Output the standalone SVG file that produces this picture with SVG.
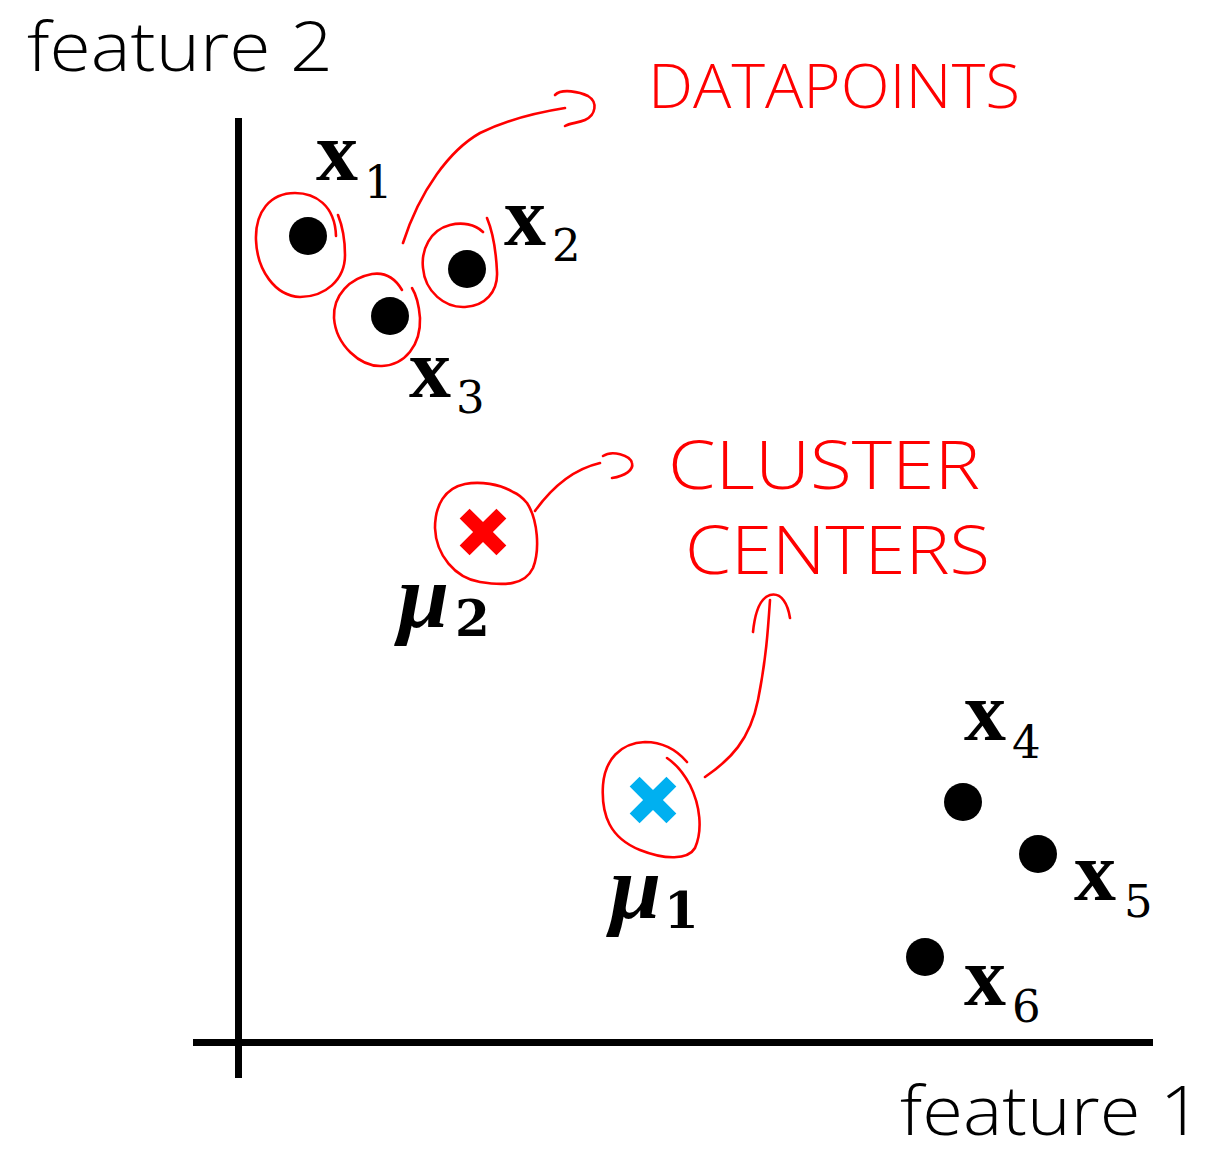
<svg xmlns="http://www.w3.org/2000/svg" width="1215" height="1154" viewBox="0 0 1215 1154">
  <style>
    .axis { stroke: #000; stroke-width: 7; fill: none; }
    .axis-label { font-family: "Open Sans", "Liberation Sans", sans-serif; font-weight: 300; font-size: 68px; fill: #000; }
    .dot { fill: #000; }
    .var { font-family: "Liberation Serif", "DejaVu Serif", serif; font-weight: bold; font-size: 84px; fill: #000; }
    .sub { font-family: "DejaVu Serif", "Liberation Serif", serif; font-size: 45px; fill: #000; }
    .mu { font-family: "Liberation Serif", "DejaVu Serif", serif; font-weight: bold; font-style: italic; font-size: 92px; fill: #000; }
    .musub { font-family: "DejaVu Serif", "Liberation Serif", serif; font-weight: bold; font-size: 50px; fill: #000; }
    .ink { stroke: #ff0000; stroke-width: 2.6; fill: none; stroke-linecap: round; stroke-linejoin: round; }
    .note { font-family: "Open Sans", "Liberation Sans", sans-serif; font-weight: 300; fill: #ff0000; }
  </style>
  <defs>
    <!-- centroid marker: a plus rotated into a cross -->
    <polygon id="cross" transform="rotate(45)" points="-7,-26 7,-26 7,-7 26,-7 26,7 7,7 7,26 -7,26 -7,7 -26,7 -26,-7 -7,-7"/>
  </defs>

  <rect width="1215" height="1154" fill="#fff"/>

  <!-- axes -->
  <g id="axes">
    <line class="axis" x1="238.5" y1="118" x2="238.5" y2="1078"/>
    <line class="axis" x1="193" y1="1042.5" x2="1153" y2="1042.5"/>
    <text class="axis-label" x="27" y="71" textLength="306" lengthAdjust="spacingAndGlyphs">feature 2</text>
    <text class="axis-label" x="900" y="1135" font-size="64" textLength="302" lengthAdjust="spacingAndGlyphs">feature 1</text>
  </g>

  <!-- data points -->
  <g id="x1">
    <circle class="dot" cx="308" cy="236" r="19"/>
    <path class="ink" d="M336,236 C335,205 315,193 295,193 C270,193 255,212 256,240 C257,270 275,296 300,297 C325,297 345,280 345,255 C345,238 342,225 338,215"/>
    <text class="var" x="316" y="180">x</text><text class="sub" x="364" y="198">1</text>
  </g>
  <g id="x2">
    <circle class="dot" cx="467" cy="269" r="19"/>
    <path class="ink" d="M483,232 C475,224 462,222 450,225 C430,230 421,250 423,268 C425,292 445,308 465,307 C485,306 498,292 497,272 C496,250 492,230 487,218"/>
    <text class="var" x="504" y="245">x</text><text class="sub" x="552" y="261">2</text>
  </g>
  <g id="x3">
    <circle class="dot" cx="390" cy="316" r="19"/>
    <path class="ink" d="M402,290 C395,278 385,272 372,274 C350,278 333,295 334,318 C336,345 360,367 382,366 C405,365 421,345 420,318 C419,305 417,296 412,288"/>
    <text class="var" x="409" y="397">x</text><text class="sub" x="456" y="413">3</text>
  </g>
  <g id="x4">
    <circle class="dot" cx="963" cy="802" r="19"/>
    <text class="var" x="964" y="740">x</text><text class="sub" x="1012" y="758">4</text>
  </g>
  <g id="x5">
    <circle class="dot" cx="1038" cy="854" r="19"/>
    <text class="var" x="1074" y="900">x</text><text class="sub" x="1124" y="917">5</text>
  </g>
  <g id="x6">
    <circle class="dot" cx="925" cy="957" r="19"/>
    <text class="var" x="964" y="1005">x</text><text class="sub" x="1012" y="1022">6</text>
  </g>

  <!-- cluster centres -->
  <g id="mu2">
    <use href="#cross" x="483" y="532" fill="#ff0000"/>
    <path class="ink" d="M513,492 C500,484 480,481 465,484 C445,488 435,505 435,528 C436,555 455,578 480,582 C505,586 525,585 533,568 C540,550 538,520 527,503 C522,497 518,494 513,492"/>
    <text class="mu" x="398" y="627">μ</text><text class="musub" x="455" y="636">2</text>
  </g>
  <g id="mu1">
    <use href="#cross" x="653" y="800" fill="#00b0f0"/>
    <path class="ink" d="M687,762 C675,748 660,742 645,742 C620,743 605,760 603,785 C601,815 610,838 640,850 C665,860 688,860 695,848 C703,830 700,805 690,785 C683,772 676,764 667,758"/>
    <text class="mu" x="610" y="918">μ</text><text class="musub" x="664" y="928">1</text>
  </g>

  <!-- handwritten notes -->
  <g id="note-datapoints">
    <text class="note" x="648" y="108" font-size="60" textLength="372" lengthAdjust="spacingAndGlyphs">DATAPOINTS</text>
  </g>
  <g id="note-clusters">
    <text class="note" x="668" y="489" font-size="66" textLength="312" lengthAdjust="spacingAndGlyphs">CLUSTER</text>
    <text class="note" x="685" y="574" font-size="66" textLength="305" lengthAdjust="spacingAndGlyphs">CENTERS</text>
  </g>

  <!-- hand-drawn pointers -->
  <g id="connectors">
    <path class="ink" d="M403,243 C420,190 450,150 480,133 C510,118 540,112 565,108"/>
    <path class="ink" d="M555,95 C562,88 580,92 588,96 C598,102 596,115 585,120 C578,123 570,123 565,126"/>
    <path class="ink" d="M535,511 C550,490 570,470 600,463"/>
    <path class="ink" d="M603,456 C612,450 630,455 632,463 C634,470 625,476 612,478"/>
    <path class="ink" d="M705,777 C730,760 750,740 758,700 C766,660 768,630 770,600"/>
    <path class="ink" d="M753,632 C755,612 760,598 770,595 C782,592 788,605 790,618"/>
  </g>
</svg>
